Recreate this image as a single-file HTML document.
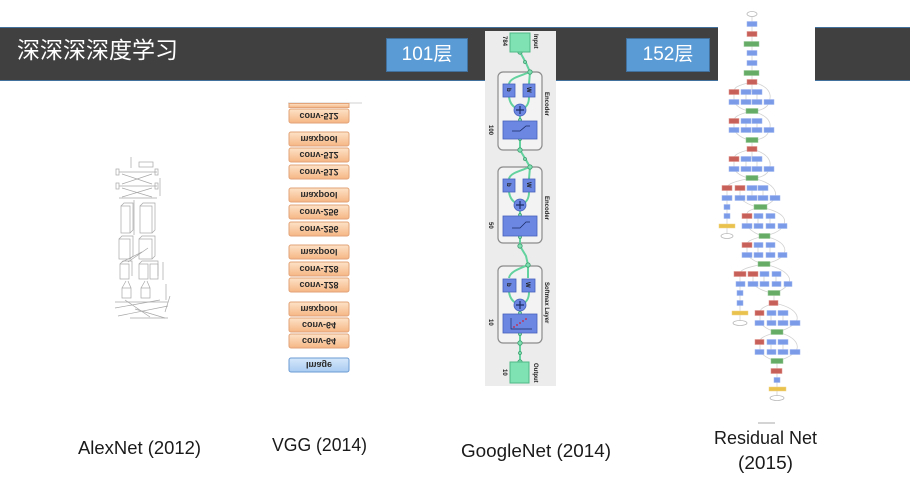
<!DOCTYPE html>
<html><head><meta charset="utf-8">
<style>
html,body{margin:0;padding:0;width:910px;height:498px;overflow:hidden;background:#fff;}
.bar{position:absolute;left:0;top:27px;width:910px;height:52px;background:#404040;border-top:1px solid #41719c;border-bottom:1px solid #41719c;}
.title{position:absolute;left:17px;top:39px;font-family:"Liberation Sans","Noto Sans CJK SC",sans-serif;font-size:23px;line-height:23px;color:#fff;white-space:nowrap;}
.tag{position:absolute;top:38px;height:32px;background:#5b9bd5;border:1px solid #41719c;color:#fff;font-family:"Liberation Sans","Noto Sans CJK SC",sans-serif;font-size:19px;line-height:32px;text-align:center;}
svg{position:absolute;left:0;top:0;}
</style></head><body>
<div class="bar"></div>
<div class="title">深深深深度学习</div>
<div class="tag" style="left:386px;width:80px;">101层</div>
<div class="tag" style="left:626px;width:82px;">152层</div>

<svg width="910" height="498" viewBox="0 0 910 498" xmlns="http://www.w3.org/2000/svg">
<defs>
<linearGradient id="og" x1="0" y1="0" x2="0" y2="1">
<stop offset="0" stop-color="#fde2c8"/><stop offset="1" stop-color="#f6b684"/>
</linearGradient>
<linearGradient id="bg" x1="0" y1="0" x2="0" y2="1">
<stop offset="0" stop-color="#d6e8fb"/><stop offset="1" stop-color="#a9cbf1"/>
</linearGradient>
</defs>

<!-- AlexNet sketch -->
<g stroke="#8a8a8a" stroke-width="0.7" fill="none" opacity="0.75">
<rect x="139" y="162" width="14" height="5"/>
<line x1="131" y1="157" x2="131" y2="168"/>
<line x1="119" y1="172" x2="157" y2="172"/>
<line x1="122" y1="174" x2="152" y2="184"/><line x1="152" y1="174" x2="122" y2="184"/>
<line x1="119" y1="186" x2="157" y2="186"/>
<line x1="122" y1="188" x2="152" y2="197"/><line x1="152" y1="188" x2="122" y2="197"/>
<line x1="119" y1="198" x2="157" y2="198"/>
<rect x="116" y="169" width="3" height="6"/><rect x="155" y="169" width="3" height="6"/>
<rect x="116" y="183" width="3" height="6"/><rect x="155" y="183" width="3" height="6"/>
<line x1="160" y1="178" x2="160" y2="196"/>
<rect x="121" y="206" width="9" height="27"/><path d="M121 206 l3 -3 h9 v27 l-3 3"/>
<rect x="140" y="206" width="12" height="27"/><path d="M140 206 l3 -3 h12 v27 l-3 3"/>
<line x1="134" y1="200" x2="134" y2="235"/>
<rect x="119" y="239" width="11" height="20"/><path d="M119 239 l3 -3 h11 v20 l-3 3"/>
<rect x="139" y="239" width="13" height="20"/><path d="M139 239 l3 -3 h13 v20 l-3 3"/>
<line x1="128" y1="262" x2="148" y2="248"/><line x1="122" y1="262" x2="142" y2="252"/>
<rect x="120" y="264" width="9" height="15"/><path d="M120 264 l3 -3 h9 v15"/>
<rect x="139" y="264" width="9" height="15"/><rect x="150" y="264" width="8" height="15"/>
<path d="M139 264 l3 -3 h16 v15"/>
<line x1="163" y1="262" x2="163" y2="280"/>
<rect x="122" y="288" width="9" height="10"/><rect x="141" y="288" width="9" height="10"/>
<path d="M122 288 l4 -7 M131 288 l-3 -7 M141 288 l4 -7 M150 288 l-3 -7"/>
<line x1="166" y1="284" x2="166" y2="300"/>
<line x1="115" y1="302" x2="168" y2="302"/>
<line x1="115" y1="308" x2="160" y2="300"/><line x1="118" y1="316" x2="168" y2="306"/>
<line x1="125" y1="300" x2="150" y2="317"/><line x1="135" y1="309" x2="165" y2="318"/>
<line x1="130" y1="318" x2="168" y2="318"/><line x1="170" y1="296" x2="165" y2="312"/>
</g>

<!-- VGG -->
<line x1="288" y1="103" x2="362" y2="103" stroke="#d0d0d0" stroke-width="1"/>
<g stroke="#e2a478" stroke-width="1" fill="url(#og)">
<rect x="289" y="103.5" width="60" height="4"/>
<rect x="289" y="109" width="60" height="14" rx="2"/>
<rect x="289" y="132" width="60" height="14" rx="2"/>
<rect x="289" y="148" width="60" height="14" rx="2"/>
<rect x="289" y="165" width="60" height="14" rx="2"/>
<rect x="289" y="188" width="60" height="14" rx="2"/>
<rect x="289" y="205" width="60" height="14" rx="2"/>
<rect x="289" y="222" width="60" height="14" rx="2"/>
<rect x="289" y="245" width="60" height="14" rx="2"/>
<rect x="289" y="262" width="60" height="14" rx="2"/>
<rect x="289" y="278" width="60" height="14" rx="2"/>
<rect x="289" y="302" width="60" height="14" rx="2"/>
<rect x="289" y="318" width="60" height="14" rx="2"/>
<rect x="289" y="334" width="60" height="14" rx="2"/>
</g>
<rect x="289" y="358" width="60" height="14" rx="2" fill="url(#bg)" stroke="#6b9bd2"/>
<g font-family="Liberation Sans, sans-serif" font-size="9" font-weight="bold" fill="#2a2a2a" text-anchor="middle">
<text transform="translate(319,116) scale(1,-1)" y="3.2">conv-512</text>
<text transform="translate(319,139) scale(1,-1)" y="3.2">maxpool</text>
<text transform="translate(319,155) scale(1,-1)" y="3.2">conv-512</text>
<text transform="translate(319,172) scale(1,-1)" y="3.2">conv-512</text>
<text transform="translate(319,195) scale(1,-1)" y="3.2">maxpool</text>
<text transform="translate(319,212) scale(1,-1)" y="3.2">conv-256</text>
<text transform="translate(319,229) scale(1,-1)" y="3.2">conv-256</text>
<text transform="translate(319,252) scale(1,-1)" y="3.2">maxpool</text>
<text transform="translate(319,269) scale(1,-1)" y="3.2">conv-128</text>
<text transform="translate(319,285) scale(1,-1)" y="3.2">conv-128</text>
<text transform="translate(319,309) scale(1,-1)" y="3.2">maxpool</text>
<text transform="translate(319,325) scale(1,-1)" y="3.2">conv-64</text>
<text transform="translate(319,341) scale(1,-1)" y="3.2">conv-64</text>
<text transform="translate(319,365) scale(1,-1)" y="3.2">Image</text>
</g>

<!-- GoogleNet -->
<rect x="485" y="31" width="71" height="355" fill="#ececec"/>
<g fill="#f3f3f3" stroke="#8c8c8c" stroke-width="1.2">
<rect x="498" y="72" width="44" height="78" rx="5"/>
<rect x="498" y="167" width="44" height="76" rx="5"/>
<rect x="498" y="266" width="44" height="77" rx="5"/>
</g>
<g stroke="#63d29e" stroke-width="2" fill="none">
<path d="M520 52 L526 63 L530 72"/>
<path d="M530 72 L529 84 M530 72 C520 76 510 78 509 84"/>
<path d="M509 97 C510 104 514 107 516 108 M529 97 C529 104 526 107 524 108"/>
<path d="M520 116 L520 121 M520 138 L520 150 L526 160 L530 167"/>
<path d="M530 167 L529 179 M530 167 C520 171 510 173 509 179"/>
<path d="M509 192 C510 199 514 202 516 203 M529 192 C529 199 526 202 524 203"/>
<path d="M520 211 L520 216 M520 236 L520 246 L526 256 L528 265"/>
<path d="M528 265 L528 278 M528 265 C518 269 510 272 509 278"/>
<path d="M509 292 C510 299 514 302 516 303 M529 292 C529 299 526 302 524 303"/>
<path d="M520 311 L520 314 M520 333 L520 362"/>
</g>
<g fill="#7fe0b2" stroke="#3f9d70" stroke-width="0.8">
<circle cx="520" cy="52" r="2.2"/><circle cx="525" cy="62" r="1.5"/><circle cx="530" cy="72" r="2.2"/>
<circle cx="520" cy="120" r="1.5"/><circle cx="520" cy="139" r="1.5"/>
<circle cx="520" cy="150" r="2.2"/><circle cx="525" cy="159" r="1.5"/><circle cx="530" cy="167" r="2.2"/>
<circle cx="520" cy="215" r="1.5"/><circle cx="520" cy="237" r="1.5"/>
<circle cx="520" cy="246" r="2.2"/><circle cx="528" cy="265" r="2.2"/>
<circle cx="520" cy="313" r="1.5"/><circle cx="520" cy="334" r="1.5"/>
<circle cx="520" cy="343" r="2.2"/><circle cx="520" cy="353" r="1.5"/><circle cx="520" cy="362" r="2.2"/>
</g>
<rect x="510" y="33" width="20" height="19" fill="#7fe2b2" stroke="#4fb886"/>
<rect x="510" y="362" width="19" height="21" fill="#7fe2b2" stroke="#4fb886"/>
<g fill="#6b87e2" stroke="#4661bc" stroke-width="0.8">
<rect x="503" y="84" width="12" height="13"/><rect x="523" y="84" width="12" height="13"/>
<circle cx="520" cy="110" r="6"/>
<rect x="503" y="121" width="34" height="18"/>
<rect x="503" y="179" width="12" height="13"/><rect x="523" y="179" width="12" height="13"/>
<circle cx="520" cy="205" r="6"/>
<rect x="503" y="216" width="34" height="20"/>
<rect x="503" y="279" width="13" height="13"/><rect x="522" y="279" width="13" height="13"/>
<circle cx="520" cy="305" r="6"/>
<rect x="503" y="314" width="34" height="19"/>
</g>
<g stroke="#1d2c66" stroke-width="1.2" fill="none">
<path d="M516 110 h8 M520 106 v8"/><path d="M516 205 h8 M520 201 v8"/><path d="M516 305 h8 M520 301 v8"/>
<path d="M512 131 L520 131 L526 126 L530 126" stroke-width="0.8"/>
<path d="M512 228 L520 228 L526 222 L530 222" stroke-width="0.8"/>
<path d="M511 318 V329 H532" stroke-width="0.7"/>
</g>
<g fill="#d0203a"><circle cx="514" cy="327" r="0.9"/><circle cx="517" cy="325" r="0.9"/><circle cx="520" cy="323" r="0.9"/><circle cx="523" cy="321" r="0.9"/><circle cx="526" cy="319" r="0.9"/></g>
<g font-family="Liberation Sans, sans-serif" font-weight="bold" font-size="6" fill="#222">
<text transform="translate(507,88) rotate(90)">b</text>
<text transform="translate(527,87) rotate(90)">W</text>
<text transform="translate(507,183) rotate(90)">b</text>
<text transform="translate(527,182) rotate(90)">W</text>
<text transform="translate(507,283) rotate(90)">b</text>
<text transform="translate(526,282) rotate(90)">W</text>
<text transform="translate(534,34) rotate(90)">Input</text>
<text transform="translate(503,36) rotate(90)">784</text>
<text transform="translate(545,92) rotate(90)">Encoder</text>
<text transform="translate(489,125) rotate(90)">100</text>
<text transform="translate(545,196) rotate(90)">Encoder</text>
<text transform="translate(489,222) rotate(90)">50</text>
<text transform="translate(545,282) rotate(90)">Softmax Layer</text>
<text transform="translate(489,319) rotate(90)">10</text>
<text transform="translate(534,363) rotate(90)">Output</text>
<text transform="translate(503,369) rotate(90)">10</text>
</g>

<!-- ResNet -->
<rect x="718" y="27" width="97" height="54" fill="#fff"/>
<g stroke="#d2d2d2" stroke-width="0.8" fill="none">
<path d="M752 14 V92"/>
<path d="M752 82 C735 86 734 88 734 92 M752 82 C770 86 772 95 769 102 M769 102 C768 108 760 111 752 111"/>
<path d="M734 92 V102 M746 92 V102 M757 92 V102 M734 102 C738 108 745 111 752 111"/>
<path d="M752 111 C735 115 734 118 734 121 M752 111 C770 116 772 124 769 130 M769 130 C768 137 760 140 752 140"/>
<path d="M734 121 V130 M746 121 V130 M757 121 V130 M734 130 C738 136 745 140 752 140 V159"/>
<path d="M752 149 C735 153 734 156 734 159 M752 149 C770 154 772 163 769 169 C768 175 760 178 752 178"/>
<path d="M734 159 V169 M746 159 V169 M757 159 V169 M734 169 C738 175 745 178 752 178"/>
<path d="M752 178 C730 182 727 185 727 188 M752 178 C775 183 777 192 775 198 C772 203 765 206 760 207"/>
<path d="M727 188 V216 M740 188 V198 M752 188 V198 M763 188 V198 M740 198 C745 203 752 206 758 207"/>
<path d="M727 216 V236 M760 207 C745 211 747 213 747 216 M760 207 C785 212 787 220 783 226 C780 232 770 235 764 236"/>
<path d="M747 216 V226 M758 216 V226 M770 216 V226 M747 226 C752 232 758 235 764 236"/>
<path d="M764 236 C748 240 747 242 747 245 M764 236 C786 241 787 250 783 255 C780 260 770 263 764 264"/>
<path d="M747 245 V255 M758 245 V255 M770 245 V255 M747 255 C752 260 758 263 764 264"/>
<path d="M764 264 C742 268 740 271 740 274 M764 264 C790 270 792 280 788 284 C785 289 778 292 774 293"/>
<path d="M740 274 V323 M753 274 V284 M764 274 V284 M776 274 V284 M753 284 C758 289 766 292 772 293"/>
<path d="M774 293 V303 M774 303 C760 308 760 310 760 313 M774 303 C798 308 800 318 795 323 C790 328 782 331 777 332"/>
<path d="M760 313 V323 M771 313 V323 M783 313 V323 M760 323 C765 328 771 331 777 332"/>
<path d="M777 332 C760 337 760 339 760 342 M777 332 C798 337 800 347 795 352 C790 357 782 360 777 361"/>
<path d="M760 342 V352 M771 342 V352 M783 342 V352 M760 352 C765 357 771 360 777 361 V398"/>
</g>
<g fill="#fff" stroke="#b8b8b8" stroke-width="0.8">
<ellipse cx="752" cy="14" rx="5" ry="2.5"/>
<ellipse cx="727" cy="236" rx="6" ry="2.5"/>
<ellipse cx="740" cy="323" rx="7" ry="2.5"/>
<ellipse cx="777" cy="398" rx="7" ry="2.5"/>
</g>
<g fill="#7b9be8" stroke="#9fb6f0" stroke-width="0.5">
<rect x="747" y="21.5" width="10" height="5"/>
<rect x="747" y="50.5" width="10" height="5"/>
<rect x="747" y="60.5" width="10" height="5"/>
<rect x="741" y="89.5" width="10" height="5"/><rect x="752" y="89.5" width="10" height="5"/>
<rect x="729" y="99.5" width="10" height="5"/><rect x="741" y="99.5" width="10" height="5"/><rect x="752" y="99.5" width="10" height="5"/><rect x="764" y="99.5" width="10" height="5"/>
<rect x="741" y="118.5" width="10" height="5"/><rect x="752" y="118.5" width="10" height="5"/>
<rect x="729" y="127.5" width="10" height="5"/><rect x="741" y="127.5" width="10" height="5"/><rect x="752" y="127.5" width="10" height="5"/><rect x="764" y="127.5" width="10" height="5"/>
<rect x="741" y="156.5" width="10" height="5"/><rect x="752" y="156.5" width="10" height="5"/>
<rect x="729" y="166.5" width="10" height="5"/><rect x="741" y="166.5" width="10" height="5"/><rect x="752" y="166.5" width="10" height="5"/><rect x="764" y="166.5" width="10" height="5"/>
<rect x="747" y="185.5" width="10" height="5"/><rect x="758" y="185.5" width="10" height="5"/>
<rect x="722" y="195.5" width="10" height="5"/><rect x="735" y="195.5" width="10" height="5"/><rect x="747" y="195.5" width="10" height="5"/><rect x="758" y="195.5" width="10" height="5"/><rect x="770" y="195.5" width="10" height="5"/>
<rect x="724" y="204.5" width="6" height="5"/>
<rect x="724" y="213.5" width="6" height="5"/>
<rect x="754" y="213.5" width="9" height="5"/><rect x="766" y="213.5" width="9" height="5"/>
<rect x="742" y="223.5" width="10" height="5"/><rect x="754" y="223.5" width="9" height="5"/><rect x="766" y="223.5" width="9" height="5"/><rect x="778" y="223.5" width="9" height="5"/>
<rect x="754" y="242.5" width="9" height="5"/><rect x="766" y="242.5" width="9" height="5"/>
<rect x="742" y="252.5" width="10" height="5"/><rect x="754" y="252.5" width="9" height="5"/><rect x="766" y="252.5" width="9" height="5"/><rect x="778" y="252.5" width="9" height="5"/>
<rect x="760" y="271.5" width="9" height="5"/><rect x="772" y="271.5" width="9" height="5"/>
<rect x="736" y="281.5" width="9" height="5"/><rect x="748" y="281.5" width="10" height="5"/><rect x="760" y="281.5" width="9" height="5"/><rect x="772" y="281.5" width="9" height="5"/><rect x="784" y="281.5" width="8" height="5"/>
<rect x="737" y="290.5" width="6" height="5"/>
<rect x="737" y="300.5" width="6" height="5"/>
<rect x="767" y="310.5" width="9" height="5"/><rect x="778" y="310.5" width="10" height="5"/>
<rect x="755" y="320.5" width="9" height="5"/><rect x="767" y="320.5" width="9" height="5"/><rect x="778" y="320.5" width="10" height="5"/><rect x="790" y="320.5" width="10" height="5"/>
<rect x="767" y="339.5" width="9" height="5"/><rect x="778" y="339.5" width="10" height="5"/>
<rect x="755" y="349.5" width="9" height="5"/><rect x="767" y="349.5" width="9" height="5"/><rect x="778" y="349.5" width="10" height="5"/><rect x="790" y="349.5" width="10" height="5"/>
<rect x="774" y="377.5" width="6" height="5"/>
</g>
<g fill="#c8605a" stroke="#e09088" stroke-width="0.5">
<rect x="747" y="31.5" width="10" height="5"/>
<rect x="747" y="79.5" width="10" height="5"/>
<rect x="729" y="89.5" width="10" height="5"/>
<rect x="729" y="118.5" width="10" height="5"/>
<rect x="747" y="146.5" width="10" height="5"/>
<rect x="729" y="156.5" width="10" height="5"/>
<rect x="722" y="185.5" width="10" height="5"/><rect x="735" y="185.5" width="10" height="5"/>
<rect x="742" y="213.5" width="10" height="5"/>
<rect x="742" y="242.5" width="10" height="5"/>
<rect x="734" y="271.5" width="12" height="5"/><rect x="748" y="271.5" width="10" height="5"/>
<rect x="769" y="300.5" width="9" height="5"/>
<rect x="755" y="310.5" width="9" height="5"/>
<rect x="755" y="339.5" width="9" height="5"/>
<rect x="771" y="368.5" width="11" height="5"/>
</g>
<g fill="#66ab66" stroke="#94c894" stroke-width="0.5">
<rect x="744" y="41.5" width="15" height="5"/>
<rect x="744" y="70.5" width="15" height="5"/>
<rect x="746" y="108.5" width="12" height="5"/>
<rect x="746" y="137.5" width="12" height="5"/>
<rect x="746" y="175.5" width="12" height="5"/>
<rect x="754" y="204.5" width="13" height="5"/>
<rect x="759" y="233.5" width="11" height="5"/>
<rect x="758" y="261.5" width="12" height="5"/>
<rect x="768" y="290.5" width="12" height="5"/>
<rect x="771" y="329.5" width="12" height="5"/>
<rect x="771" y="358.5" width="12" height="5"/>
</g>
<g fill="#e9c24d" stroke="#f0d488" stroke-width="0.5">
<rect x="719" y="224" width="16" height="4"/>
<rect x="732" y="311" width="16" height="4"/>
<rect x="769" y="387" width="17" height="4"/>
</g>
<line x1="758" y1="423" x2="775" y2="423" stroke="#aaa" stroke-width="1"/>

<!-- bottom labels -->
<g font-family="Liberation Sans, sans-serif" font-size="18" fill="#1a1a1a">
<text x="78" y="454" textLength="123" lengthAdjust="spacingAndGlyphs">AlexNet (2012)</text>
<text x="272" y="451" textLength="95" lengthAdjust="spacingAndGlyphs">VGG (2014)</text>
<text x="461" y="457" textLength="150" lengthAdjust="spacingAndGlyphs">GoogleNet (2014)</text>
<text x="714" y="444" textLength="103" lengthAdjust="spacingAndGlyphs">Residual Net</text>
<text x="738" y="469" textLength="55" lengthAdjust="spacingAndGlyphs">(2015)</text>
</g>
</svg>
</body></html>
